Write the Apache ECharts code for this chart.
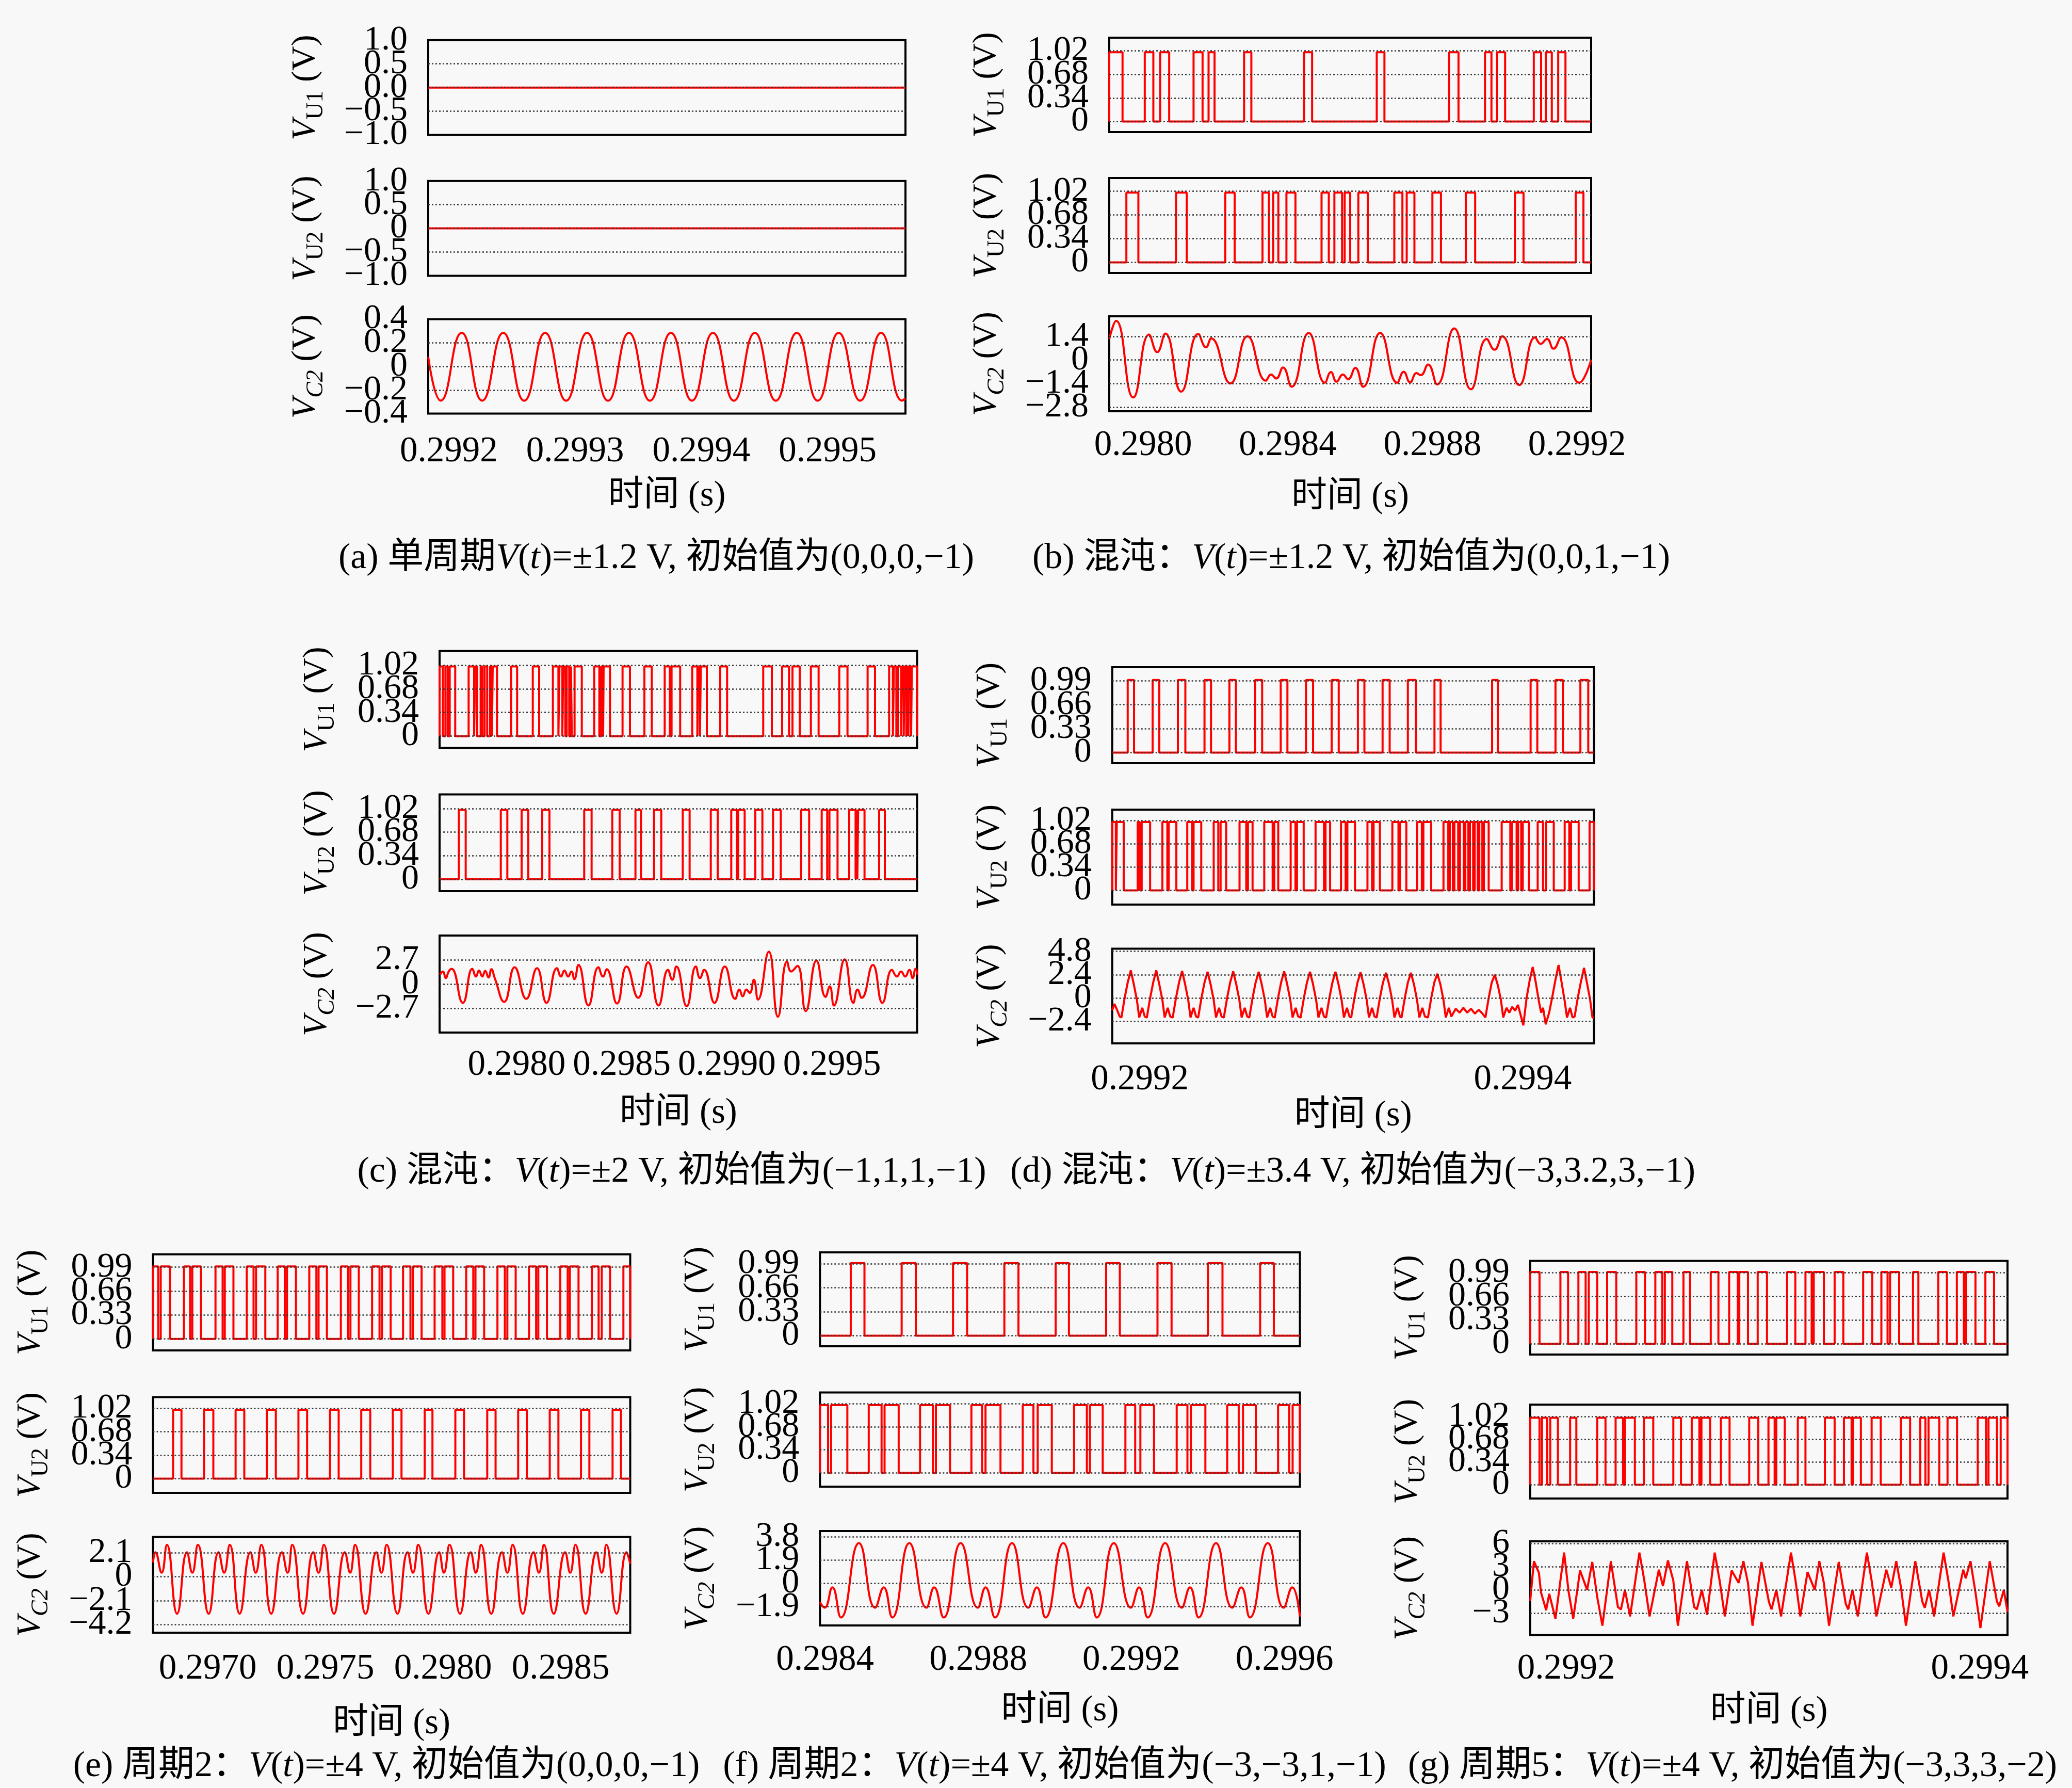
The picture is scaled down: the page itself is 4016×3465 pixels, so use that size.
<!DOCTYPE html>
<html><head><meta charset="utf-8">
<script src="https://cdn.jsdelivr.net/npm/echarts@6/dist/echarts.min.js"></script>
<style>html,body{margin:0;padding:0;background:#f8f8f8}#c{width:4016px;height:3465px}</style>
</head><body><div id="c"></div><script>
// ---------- tick labels ----------
const ticksA_U1 = [[1,'1.0'],[0.5,'0.5'],[0,'0.0'],[-0.5,'−0.5'],[-1,'−1.0']];
const ticksA_U2 = [[1,'1.0'],[0.5,'0.5'],[0,'0'],[-0.5,'−0.5'],[-1,'−1.0']];
const ticksA_C2 = [[0.4,'0.4'],[0.2,'0.2'],[0,'0'],[-0.2,'−0.2'],[-0.4,'−0.4']];
const ticksU34 = [[1.02,'1.02'],[0.68,'0.68'],[0.34,'0.34'],[0,'0']];
const ticksU33 = [[0.99,'0.99'],[0.66,'0.66'],[0.33,'0.33'],[0,'0']];
const ticksB_C2 = [[1.4,'1.4'],[0,'0'],[-1.4,'−1.4'],[-2.8,'−2.8']];
const ticksC_C2 = [[2.7,'2.7'],[0,'0'],[-2.7,'−2.7']];
const ticksD_C2 = [[4.8,'4.8'],[2.4,'2.4'],[0,'0'],[-2.4,'−2.4']];
const ticksE_C2 = [[2.1,'2.1'],[0,'0'],[-2.1,'−2.1'],[-4.2,'−4.2']];
const ticksF_C2 = [[3.8,'3.8'],[1.9,'1.9'],[0,'0'],[-1.9,'−1.9']];
const ticksG_C2 = [[6,'6'],[3,'3'],[0,'0'],[-3,'−3']];
const xTicksA = [0.2992,0.2993,0.2994,0.2995];
const xTicksB = [0.2980,0.2984,0.2988,0.2992];
const xTicksC = [0.2980,0.2985,0.2990,0.2995];
const xTicksD = [0.2992,0.2994];
const xTicksE = [0.2970,0.2975,0.2980,0.2985];
const xTicksF = [0.2984,0.2988,0.2992,0.2996];
const xTicksG = [0.2992,0.2994];
const captions = [
 '(a) 单周期{i|V}({i|t})=±1.2 V, 初始值为(0,0,0,−1)',
 '(b) 混沌：{i|V}({i|t})=±1.2 V, 初始值为(0,0,1,−1)',
 '(c) 混沌：{i|V}({i|t})=±2 V, 初始值为(−1,1,1,−1)',
 '(d) 混沌：{i|V}({i|t})=±3.4 V, 初始值为(−3,3.2,3,−1)',
 '(e) 周期2：{i|V}({i|t})=±4 V, 初始值为(0,0,0,−1)',
 '(f) 周期2：{i|V}({i|t})=±4 V, 初始值为(−3,−3,1,−1)',
 '(g) 周期5：{i|V}({i|t})=±4 V, 初始值为(−3,3,3,−2)'
];
const xTitle = '时间 (s)';

// ---------- data ----------
const HIGH = 1.0;
// (a)
const aU1 = [[0.2991837,0],[0.2995617,0]];
const aU2 = [[0.2991837,0],[0.2995617,0]];
const aC2 = [[0.2991837,0.08],[0.2991936,-0.29],[0.2992102,0.285],[0.2992264,-0.29],[0.2992431,0.285],[0.2992597,-0.29],[0.2992763,0.285],[0.2992929,-0.29],[0.2993095,0.285],[0.2993261,-0.29],[0.2993427,0.285],[0.2993593,-0.29],[0.2993759,0.285],[0.2993926,-0.29],[0.2994092,0.285],[0.2994258,-0.29],[0.2994424,0.285],[0.2994590,-0.29],[0.2994756,0.285],[0.2994922,-0.29],[0.2995088,0.285],[0.2995258,-0.29],[0.2995424,0.285],[0.2995590,-0.29],[0.2995617,-0.27]];
// (b) pulses [rise, fall]
const bU1 = [[0.2979065,0.2979432],[0.2980047,0.2980284],[0.2980473,0.2980722],[0.2981396,0.2981645],[0.2981811,0.2981976],[0.2982793,0.2982994],[0.2984450,0.2984674],[0.2986461,0.2986674],[0.2988461,0.2988722],[0.2989455,0.2989633],[0.2989787,0.2990011],[0.2990804,0.2991006],[0.2991136,0.2991302],[0.2991479,0.2991680]];
const bU2 = [[0.2979538,0.2979870],[0.2980911,0.2981207],[0.2982272,0.2982532],[0.2983302,0.2983479],[0.2983598,0.2983740],[0.2983964,0.2984213],[0.2984935,0.2985136],[0.2985290,0.2985503],[0.2985574,0.2985728],[0.2985952,0.2986213],[0.2986947,0.2987171],[0.2987290,0.2987503],[0.2988000,0.2988237],[0.2988923,0.2989183],[0.2990284,0.2990520],[0.2991964,0.2992177]];
const bC2 = [[0.2979065,1.25],[0.2979254,2.33],[0.2979728,-2.23],[0.2980166,1.51],[0.2980391,0.47],[0.2980615,1.57],[0.2981053,-1.88],[0.2981527,1.55],[0.2981740,0.76],[0.2981882,1.29],[0.2982414,-1.39],[0.2982888,1.41],[0.2983396,-1.23],[0.2983538,-0.86],[0.2983680,-1.10],[0.2983870,-0.45],[0.2984106,-1.59],[0.2984580,1.61],[0.2985029,-1.35],[0.2985195,-0.72],[0.2985349,-1.29],[0.2985526,-0.86],[0.2985669,-1.14],[0.2985870,-0.47],[0.2986083,-1.59],[0.2986556,1.61],[0.2987029,-1.35],[0.2987207,-0.70],[0.2987384,-1.33],[0.2987562,-0.78],[0.2987680,-0.90],[0.2987881,-0.27],[0.2988130,-1.45],[0.2988603,1.88],[0.2989065,-1.74],[0.2989503,1.25],[0.2989716,0.61],[0.2989929,1.41],[0.2990402,-1.49],[0.2990840,1.35],[0.2990994,0.96],[0.2991171,1.25],[0.2991349,0.67],[0.2991562,1.35],[0.2992059,-1.35],[0.2992390,0.0]];
// (c)
const cU1 = [[0.2976331,0.2976486],[0.2976609,0.2976715],[0.2976813,0.2977075],[0.2977713,0.2977975],[0.2978024,0.2978122],[0.2978286,0.2978368],[0.2978474,0.2978597],[0.2978736,0.2978818],[0.2978859,0.2979063],[0.2979734,0.2980020],[0.2980765,0.2981068],[0.2981722,0.2981984],[0.2982033,0.2982172],[0.2982213,0.2982311],[0.2982377,0.2982499],[0.2982581,0.2982622],[0.2982753,0.2983097],[0.2983686,0.2983931],[0.2984029,0.2984111],[0.2984135,0.2984438],[0.2985035,0.2985387],[0.2986074,0.2986426],[0.2987040,0.2987285],[0.2987367,0.2987776],[0.2988349,0.2988594],[0.2988635,0.2988717],[0.2988758,0.2989044],[0.2989682,0.2990009],[0.2991727,0.2992137],[0.2992627,0.2992955],[0.2993118,0.2993462],[0.2993994,0.2994362],[0.2995344,0.2995736],[0.2996693,0.2997045],[0.2997716,0.2997896],[0.2997945,0.2998060],[0.2998125,0.2998289],[0.2998330,0.2998412],[0.2998452,0.2998534],[0.2998575,0.2998632],[0.2998681,0.2998763],[0.2998796,0.2999046]];
const cU2 = [[0.2977247,0.2977574],[0.2979243,0.2979554],[0.2980233,0.2980552],[0.2981215,0.2981558],[0.2983211,0.2983563],[0.2984545,0.2984896],[0.2985649,0.2985911],[0.2986533,0.2986876],[0.2987899,0.2988226],[0.2989232,0.2989560],[0.2990206,0.2990476],[0.2990533,0.2990844],[0.2991351,0.2991687],[0.2992194,0.2992562],[0.2993527,0.2993912],[0.2994509,0.2994771],[0.2994877,0.2995262],[0.2995818,0.2996121],[0.2996162,0.2996203],[0.2996244,0.2996546],[0.2997241,0.2997512]];
const cC2 = [[0.2976351,1.03],[0.2976489,1.40],[0.2976627,0.66],[0.2976765,1.40],[0.2976903,1.69],[0.2977436,-2.09],[0.2977890,1.69],[0.2978067,0.84],[0.2978205,1.51],[0.2978363,0.84],[0.2978501,1.47],[0.2978659,0.73],[0.2978797,1.65],[0.2978955,0.66],[0.2979408,-1.98],[0.2979901,1.87],[0.2980454,-1.65],[0.2980966,1.76],[0.2981420,-2.09],[0.2981913,1.76],[0.2982110,0.84],[0.2982268,1.51],[0.2982446,0.84],[0.2982604,1.40],[0.2982742,0.55],[0.2982939,2.13],[0.2983412,-2.39],[0.2983886,1.87],[0.2984103,0.84],[0.2984280,1.65],[0.2984773,-2.17],[0.2985227,1.95],[0.2985779,-1.54],[0.2986253,2.42],[0.2986746,-2.39],[0.2987199,1.58],[0.2987397,0.48],[0.2987594,1.95],[0.2988087,-2.46],[0.2988521,1.95],[0.2988718,0.66],[0.2988915,1.58],[0.2989408,-2.09],[0.2989901,1.95],[0.2990395,-1.65],[0.2990592,-0.62],[0.2990750,-1.36],[0.2990927,-0.62],[0.2991085,-0.99],[0.2991282,0.48],[0.2991479,-1.73],[0.2991992,3.60],[0.2992426,-3.64],[0.2992860,2.50],[0.2993057,1.40],[0.2993353,2.02],[0.2993748,-3.01],[0.2994260,2.61],[0.2994694,-1.43],[0.2994892,-0.26],[0.2995089,-2.39],[0.2995602,2.75],[0.2996016,-2.09],[0.2996213,-0.62],[0.2996410,-1.54],[0.2996943,2.13],[0.2997396,-2.09],[0.2997850,1.58],[0.2998087,0.84],[0.2998284,1.40],[0.2998481,0.84],[0.2998678,1.58],[0.2998836,0.66],[0.2998974,1.69],[0.2999073,1.03]];
// (d)
const dU1 = [[0.2991937,0.2991970],[0.2992067,0.2992102],[0.2992199,0.2992238],[0.2992338,0.2992372],[0.2992468,0.2992502],[0.2992602,0.2992639],[0.2992736,0.2992771],[0.2992868,0.2992905],[0.2993002,0.2993039],[0.2993139,0.2993173],[0.2993268,0.2993305],[0.2993400,0.2993442],[0.2993539,0.2993571],[0.2993840,0.2993870],[0.2994041,0.2994076],[0.2994171,0.2994210],[0.2994301,0.2994342]];
const dU2 = [[0.2991856,0.2991875],[0.2991880,0.2991916],[0.2991989,0.2992000],[0.2992010,0.2992054],[0.2992118,0.2992144],[0.2992151,0.2992191],[0.2992248,0.2992273],[0.2992281,0.2992321],[0.2992386,0.2992410],[0.2992422,0.2992451],[0.2992521,0.2992556],[0.2992565,0.2992589],[0.2992650,0.2992694],[0.2992702,0.2992723],[0.2992788,0.2992813],[0.2992821,0.2992856],[0.2992918,0.2992962],[0.2992970,0.2992994],[0.2993051,0.2993075],[0.2993084,0.2993124],[0.2993189,0.2993213],[0.2993221,0.2993254],[0.2993319,0.2993351],[0.2993359,0.2993392],[0.2993449,0.2993473],[0.2993481,0.2993522],[0.2993586,0.2993611],[0.2993619,0.2993635],[0.2993643,0.2993663],[0.2993672,0.2993692],[0.2993700,0.2993716],[0.2993724,0.2993741],[0.2993749,0.2993765],[0.2993773,0.2993789],[0.2993797,0.2993822],[0.2993890,0.2993935],[0.2993943,0.2993968],[0.2993976,0.2993992],[0.2994000,0.2994033],[0.2994078,0.2994106],[0.2994122,0.2994162],[0.2994219,0.2994243],[0.2994252,0.2994292],[0.2994349,0.2994372]];
const dC2 = [[0.2991856,-1.25],[0.2991868,-0.6],[0.2991883,-1.3],[0.2991895,-1.9],
[0.2991904,-2.0],[0.2991921,0.0],[0.2991937,1.6],[0.2991953,2.85],[0.2991969,1.4],[0.2991985,-0.2],[0.2991997,-2.0],[0.2992013,-1.0],[0.2992026,-1.9],
[0.2992037,-2.0],[0.2992054,0.0],[0.2992070,1.6],[0.2992086,2.85],[0.2992102,1.4],[0.2992118,-0.2],[0.2992130,-2.0],[0.2992146,-1.0],[0.2992159,-1.9],
[0.2992172,-2.0],[0.2992189,0.0],[0.2992205,1.6],[0.2992221,2.8],[0.2992237,1.4],[0.2992253,-0.2],[0.2992265,-2.0],[0.2992281,-1.0],[0.2992294,-1.9],
[0.2992305,-2.0],[0.2992322,0.0],[0.2992338,1.6],[0.2992354,2.7],[0.2992370,1.4],[0.2992386,-0.2],[0.2992398,-2.0],[0.2992414,-1.0],[0.2992427,-1.9],
[0.2992439,-2.0],[0.2992456,0.0],[0.2992472,1.6],[0.2992488,2.75],[0.2992504,1.4],[0.2992520,-0.2],[0.2992532,-2.0],[0.2992548,-1.0],[0.2992561,-1.9],
[0.2992572,-2.0],[0.2992589,0.0],[0.2992605,1.6],[0.2992621,2.7],[0.2992637,1.4],[0.2992653,-0.2],[0.2992665,-2.0],[0.2992681,-1.0],[0.2992694,-1.9],
[0.2992705,-2.0],[0.2992722,0.0],[0.2992738,1.6],[0.2992754,2.75],[0.2992770,1.4],[0.2992786,-0.2],[0.2992798,-2.0],[0.2992814,-1.0],[0.2992827,-1.9],
[0.2992840,-2.0],[0.2992857,0.0],[0.2992873,1.6],[0.2992889,2.7],[0.2992905,1.4],[0.2992921,-0.2],[0.2992933,-2.0],[0.2992949,-1.0],[0.2992962,-1.9],
[0.2992973,-2.0],[0.2992990,0.0],[0.2993006,1.6],[0.2993022,2.7],[0.2993038,1.4],[0.2993054,-0.2],[0.2993066,-2.0],[0.2993082,-1.0],[0.2993095,-1.9],
[0.2993104,-2.0],[0.2993121,0.0],[0.2993137,1.6],[0.2993153,2.65],[0.2993169,1.4],[0.2993185,-0.2],[0.2993197,-2.0],[0.2993213,-1.0],[0.2993226,-1.9],
[0.2993237,-2.0],[0.2993254,0.0],[0.2993270,1.6],[0.2993286,2.6],[0.2993302,1.4],[0.2993318,-0.2],[0.2993330,-2.0],[0.2993346,-1.0],[0.2993359,-1.9],
[0.2993367,-2.0],[0.2993384,0.0],[0.2993400,1.6],[0.2993416,2.6],[0.2993432,1.4],[0.2993448,-0.2],[0.2993460,-2.0],[0.2993476,-1.0],[0.2993489,-1.9],
[0.2993505,-2.0],[0.2993522,0.0],[0.2993538,1.6],[0.2993554,2.5],[0.2993570,1.4],[0.2993586,-0.2],[0.2993598,-2.0],[0.2993614,-1.0],[0.2993627,-1.9],
[0.2993650,-1.1],[0.2993670,-1.5],[0.2993690,-1.0],[0.2993710,-1.5],[0.2993730,-1.1],[0.2993750,-1.6],[0.2993770,-1.2],[0.2993790,-1.6],
[0.2993805,-2.0],[0.2993822,0.0],[0.2993838,1.6],[0.2993854,2.4],[0.2993870,1.3],[0.2993886,-0.2],[0.2993898,-2.0],[0.2993915,-1.0],[0.2993930,-1.5],[0.2993945,-0.9],[0.2993960,-1.3],[0.2993975,-0.7],
[0.2994003,-2.8],[0.2994020,0.0],[0.2994036,1.8],[0.2994052,3.2],[0.2994068,1.6],[0.2994084,-0.3],[0.2994096,-1.5],[0.2994106,-1.0],[0.2994120,-2.7],
[0.2994138,-1.5],[0.2994155,0.2],[0.2994171,1.9],[0.2994187,3.4],[0.2994203,1.6],[0.2994219,-0.3],[0.2994231,-2.0],[0.2994247,-1.0],[0.2994260,-2.0],
[0.2994271,-1.9],[0.2994288,0.1],[0.2994304,1.7],[0.2994320,3.1],[0.2994336,1.5],[0.2994352,-0.2],[0.2994364,-2.0],[0.2994372,-2.0]];
// (e)
const eU1 = [[0.2967671,0.2967895],[0.2968000,0.2968395],[0.2968987,0.2969250],[0.2969342,0.2969711],[0.2970329,0.2970632],[0.2970724,0.2971092],[0.2971658,0.2971947],[0.2972053,0.2972447],[0.2972974,0.2973276],[0.2973368,0.2973750],[0.2974316,0.2974618],[0.2974711,0.2975066],[0.2975658,0.2975961],[0.2976066,0.2976421],[0.2976987,0.2977303],[0.2977408,0.2977776],[0.2978303,0.2978618],[0.2978724,0.2979092],[0.2979645,0.2979974],[0.2980066,0.2980434],[0.2980987,0.2981289],[0.2981382,0.2981750],[0.2982316,0.2982632],[0.2982737,0.2983092],[0.2983658,0.2983961],[0.2984053,0.2984421],[0.2984987,0.2985303],[0.2985395,0.2985763],[0.2986329,0.2986618],[0.2986750,0.2987105],[0.2987671,0.2987961]];
const eU2 = [[0.2968526,0.2968882],[0.2969842,0.2970237],[0.2971184,0.2971553],[0.2972513,0.2972895],[0.2973855,0.2974224],[0.2975197,0.2975566],[0.2976526,0.2976908],[0.2977868,0.2978237],[0.2979224,0.2979553],[0.2980526,0.2980895],[0.2981882,0.2982237],[0.2983197,0.2983566],[0.2984540,0.2984908],[0.2985868,0.2986224],[0.2987211,0.2987566]];
const eC2 = [[0.2967671,1.25],[0.2967776,2.15],[0.2968039,0.35],[0.2968263,2.8],[0.2968697,-3.25],
[0.2969118,2.15],[0.2969342,0.35],[0.2969579,2.8],[0.2970039,-3.25],
[0.2970461,2.15],[0.2970697,0.35],[0.2970934,2.8],[0.2971355,-3.25],
[0.2971816,2.15],[0.2972039,0.35],[0.2972276,2.8],[0.2972697,-3.25],
[0.2973158,2.15],[0.2973395,0.35],[0.2973592,2.8],[0.2974053,-3.25],
[0.2974487,2.15],[0.2974711,0.35],[0.2974934,2.8],[0.2975368,-3.25],
[0.2975829,2.15],[0.2976053,0.35],[0.2976263,2.8],[0.2976711,-3.25],
[0.2977171,2.15],[0.2977382,0.35],[0.2977605,2.8],[0.2978066,-3.25],
[0.2978500,2.15],[0.2978724,0.35],[0.2978947,2.8],[0.2979382,-3.25],
[0.2979842,2.15],[0.2980039,0.35],[0.2980276,2.8],[0.2980724,-3.25],
[0.2981184,2.15],[0.2981395,0.35],[0.2981618,2.8],[0.2982053,-3.25],
[0.2982513,2.15],[0.2982737,0.35],[0.2982961,2.8],[0.2983395,-3.25],
[0.2983855,2.15],[0.2984079,0.35],[0.2984290,2.8],[0.2984711,-3.25],
[0.2985197,2.15],[0.2985408,0.35],[0.2985632,2.8],[0.2986066,-3.25],
[0.2986527,2.15],[0.2986750,0.35],[0.2986947,2.8],[0.2987382,-3.25],
[0.2987803,2.15],[0.2987961,1.14]];
// (f)
const fU1 = [[0.2984670,0.2985028],[0.2986000,0.2986369],[0.2987341,0.2987709],[0.2988682,0.2989050],[0.2990022,0.2990369],[0.2991341,0.2991698],[0.2992682,0.2993050],[0.2994000,0.2994380],[0.2995363,0.2995721]];
const fU2 = [[0.2983866,0.2984078],[0.2984156,0.2984581],[0.2985140,0.2985475],[0.2985553,0.2985922],[0.2986480,0.2986816],[0.2986894,0.2987263],[0.2987821,0.2988101],[0.2988190,0.2988581],[0.2989162,0.2989441],[0.2989553,0.2989922],[0.2990503,0.2990838],[0.2990916,0.2991251],[0.2991844,0.2992100],[0.2992235,0.2992592],[0.2993184,0.2993464],[0.2993553,0.2993933],[0.2994503,0.2994804],[0.2994916,0.2995251],[0.2995832,0.2996123],[0.2996212,0.2996402]];
const fC2 = [[0.2983866,-1.53],[0.2983989,-1.98],[0.2984190,-0.32],[0.2984413,-2.78],[0.2984883,3.29],
[0.2985307,-1.98],[0.2985531,-0.32],[0.2985754,-2.78],[0.2986201,3.29],
[0.2986648,-1.98],[0.2986849,-0.32],[0.2987095,-2.78],[0.2987542,3.29],
[0.2987989,-1.98],[0.2988190,-0.32],[0.2988436,-2.78],[0.2988883,3.29],
[0.2989307,-1.98],[0.2989531,-0.32],[0.2989754,-2.78],[0.2990223,3.29],
[0.2990648,-1.98],[0.2990871,-0.32],[0.2991095,-2.78],[0.2991542,3.29],
[0.2991989,-1.98],[0.2992201,-0.32],[0.2992425,-2.78],[0.2992883,3.29],
[0.2993318,-1.98],[0.2993531,-0.32],[0.2993754,-2.78],[0.2994212,3.29],
[0.2994637,-1.98],[0.2994871,-0.32],[0.2995095,-2.78],[0.2995564,3.29],
[0.2995977,-1.98],[0.2996201,-0.32],[0.2996402,-2.7]];
// (g)
const gU1 = [[0.2991826,0.2991871],[0.2991972,0.2992009],[0.2992059,0.2992094],[0.2992109,0.2992150],[0.2992198,0.2992242],[0.2992339,0.2992381],[0.2992431,0.2992465],[0.2992477,0.2992513],[0.2992567,0.2992599],[0.2992699,0.2992736],[0.2992788,0.2992830],[0.2992837,0.2992879],[0.2992926,0.2992971],[0.2993068,0.2993108],[0.2993157,0.2993187],[0.2993197,0.2993246],[0.2993298,0.2993340],[0.2993436,0.2993480],[0.2993524,0.2993554],[0.2993566,0.2993610],[0.2993677,0.2993703],[0.2993799,0.2993841],[0.2993889,0.2993923],[0.2993933,0.2993979],[0.2994027,0.2994069]];
const gU2 = [[0.2991826,0.2991871],[0.2991883,0.2991908],[0.2991923,0.2991960],[0.2992019,0.2992049],[0.2992150,0.2992190],[0.2992239,0.2992275],[0.2992284,0.2992332],[0.2992376,0.2992421],[0.2992518,0.2992555],[0.2992607,0.2992644],[0.2992654,0.2992696],[0.2992748,0.2992790],[0.2992885,0.2992929],[0.2992978,0.2993008],[0.2993016,0.2993057],[0.2993120,0.2993157],[0.2993251,0.2993298],[0.2993343,0.2993380],[0.2993387,0.2993425],[0.2993477,0.2993521],[0.2993618,0.2993663],[0.2993712,0.2993737],[0.2993752,0.2993804],[0.2993844,0.2993890],[0.2993990,0.2994030],[0.2994042,0.2994083],[0.2994101,0.2994134]];
const gC2 = [[0.2991826,-1.4],[0.2991844,3.7],[0.2991868,2.2],[0.2991878,-0.3],[0.2991903,-2.6],[0.2991918,-0.5],[0.2991948,-3.7],[0.2991972,1.2],[0.2991990,4.8],[0.2992012,-0.3],[0.2992034,-3.7],[0.2992067,2.5],[0.2992101,0.0],[0.2992126,3.6],[0.2992150,-0.9],[0.2992175,-4.6],[0.2992216,3.7],[0.2992250,-2.2],[0.2992265,-2.5],[0.2992284,0.0],[0.2992309,-3.4],[0.2992354,4.8],[0.2992376,1.5],[0.2992403,-3.4],[0.2992448,2.6],[0.2992468,0.5],[0.2992492,3.8],[0.2992518,1.2],[0.2992540,-4.6],[0.2992584,3.7],[0.2992619,-2.2],[0.2992632,-2.5],[0.2992656,0.0],[0.2992681,-3.2],[0.2992718,4.8],[0.2992742,1.2],[0.2992767,-3.4],[0.2992800,2.5],[0.2992834,0.9],[0.2992857,3.7],[0.2992879,0.9],[0.2992901,-4.6],[0.2992944,3.6],[0.2992980,-1.5],[0.2992993,-2.5],[0.2993016,0.0],[0.2993039,-3.4],[0.2993087,4.8],[0.2993109,1.2],[0.2993132,-3.4],[0.2993167,2.3],[0.2993202,0.0],[0.2993224,3.7],[0.2993246,0.9],[0.2993271,-4.6],[0.2993318,3.6],[0.2993352,-1.8],[0.2993364,-2.5],[0.2993384,0.0],[0.2993410,-3.4],[0.2993454,4.8],[0.2993477,1.2],[0.2993500,-3.4],[0.2993548,2.6],[0.2993572,0.3],[0.2993596,3.7],[0.2993619,0.3],[0.2993643,-4.6],[0.2993688,3.7],[0.2993722,-1.5],[0.2993734,-2.3],[0.2993755,0.0],[0.2993779,-3.4],[0.2993825,4.8],[0.2993848,1.2],[0.2993872,-3.4],[0.2993920,2.6],[0.2993932,1.5],[0.2993955,3.7],[0.2993979,-0.3],[0.2994003,-4.9],[0.2994048,3.7],[0.2994083,-1.5],[0.2994094,-2.1],[0.2994116,0.0],[0.2994134,-2.8]];

// ---------- layout / styling ----------
const FONT = "'Liberation Serif','Noto Sans CJK SC',serif";
const RED = '#ff0000';
const panels = [
 {L:830, R:1755, rows:[[77.8,261.5],[350.8,534.4],[618.6,801.6]], xMin:0.2991837, xMax:0.2995617, xTicks:xTicksA, gOff:0.2992346, gStep:0.00005, nameGapX:126, margin:40,
  y:[{min:-1,max:1,ticks:ticksA_U1,n:'U1'},{min:-1,max:1,ticks:ticksA_U2,n:'U2'},{min:-0.4,max:0.4,ticks:ticksA_C2,n:'C2'}],
  data:[{d:aU1},{d:aU2},{d:aC2,smooth:true}], cap:[1272,1083]},
 {L:2150, R:3084, rows:[[73,256],[345,529],[613,797]], xMin:0.2979065, xMax:0.2992390, xTicks:xTicksB, gOff:0, gStep:0.0002, nameGapX:132, margin:32,
  y:[{min:-0.152,max:1.21,ticks:ticksU34,n:'U1'},{min:-0.152,max:1.21,ticks:ticksU34,n:'U2'},{min:-3.05,max:2.6,ticks:ticksB_C2,n:'C2'}],
  data:[{p:bU1},{p:bU2},{d:bC2,smooth:true}], cap:[2619,1083]},
 {L:852, R:1777.5, rows:[[1261.4,1449.6],[1539.5,1727],[1813,2001]], xMin:0.2976331, xMax:0.2999046, xTicks:xTicksC, gOff:0, gStep:0.00025, nameGapX:122, margin:29,
  y:[{min:-0.17,max:1.223,ticks:ticksU34,n:'U1'},{min:-0.17,max:1.223,ticks:ticksU34,n:'U2'},{min:-5.4,max:5.4,ticks:ticksC_C2,n:'C2'}],
  data:[{p:cU1},{p:cU2},{d:cC2,smooth:true}], cap:[1302,2272]},
 {L:2155.7, R:3089.5, rows:[[1293,1479],[1569,1753],[1838.6,2022]], xMin:0.2991856, xMax:0.2994372, xTicks:xTicksD, gOff:0, gStep:0.0001, nameGapX:102, margin:36,
  y:[{min:-0.145,max:1.176,ticks:ticksU33,n:'U1'},{min:-0.207,max:1.18,ticks:ticksU34,n:'U2'},{min:-4.66,max:5.07,ticks:ticksD_C2,n:'C2'}],
  data:[{p:dU1},{p:dU2},{d:dC2}], cap:[2622,2272]},
 {L:296.5, R:1221.5, rows:[[2430.8,2617],[2707.6,2893],[2978.6,3164]], xMin:0.2967671, xMax:0.2987961, xTicks:xTicksE, gOff:0, gStep:0.00025, nameGapX:142, margin:36,
  y:[{min:-0.159,max:1.167,ticks:ticksU33,n:'U1'},{min:-0.205,max:1.182,ticks:ticksU34,n:'U2'},{min:-4.92,max:3.49,ticks:ticksE_C2,n:'C2'}],
  data:[{p:eU1},{p:eU2},{d:eC2,smooth:true}], cap:[749,3424]},
 {L:1589.3, R:2519.5, rows:[[2427,2609],[2698.6,2881],[2967,3150]], xMin:0.2983866, xMax:0.2996402, xTicks:xTicksF, gOff:0, gStep:0.0001, nameGapX:131, margin:33,
  y:[{min:-0.145,max:1.148,ticks:ticksU33,n:'U1'},{min:-0.204,max:1.185,ticks:ticksU34,n:'U2'},{min:-3.43,max:4.28,ticks:ticksF_C2,n:'C2'}],
  data:[{p:fU1},{p:fU2},{d:fC2,smooth:true}], cap:[2044,3424]},
 {L:2965.9, R:3891, rows:[[2443.5,2625],[2722,2904],[2987,3168.6]], xMin:0.2991826, xMax:0.2994134, xTicks:xTicksG, gOff:0, gStep:0.0001, nameGapX:114, margin:32,
  y:[{min:-0.151,max:1.155,ticks:ticksU33,n:'U1'},{min:-0.207,max:1.197,ticks:ticksU34,n:'U2'},{min:-5.8,max:6.25,ticks:ticksG_C2,n:'C2'}],
  data:[{p:gU1},{p:gU2},{d:gC2}], cap:[3358,3424]}
];

function squareWave(pulses, x0, x1, hi) {
  const pts = [[x0, 0]];
  pulses.forEach(([r, f]) => { pts.push([r, 0], [r, hi], [f, hi], [f, 0]); });
  pts.push([x1, 0]);
  return pts;
}
const nameRich = {
  v: {fontStyle:'italic', fontSize:66, fontFamily:FONT, color:'#000', lineHeight:86, verticalAlign:'middle'},
  s: {fontSize:46, fontFamily:FONT, color:'#000', lineHeight:46, verticalAlign:'bottom'},
  si: {fontSize:46, fontStyle:'italic', fontFamily:FONT, color:'#000', lineHeight:46, verticalAlign:'bottom'},
  n: {fontSize:66, fontFamily:FONT, color:'#000', lineHeight:86, verticalAlign:'middle'}
};

const grids = [], xAxes = [], yAxes = [], series = [];
panels.forEach(p => {
  for (let r = 0; r < 3; r++) {
    const gi = grids.length;
    const [top, bottom] = p.rows[r];
    const yc = p.y[r];
    const isBottom = r === 2;
    grids.push({left:p.L, top:top, width:p.R - p.L, height:bottom - top, show:true, borderColor:'#000', borderWidth:4,
      backgroundColor:'transparent', containLabel:false, outerBoundsMode:'none'});
    xAxes.push({type:'value', gridIndex:gi, min:p.xMin, max:p.xMax,
      axisLine:{show:false}, axisTick:{show:false}, splitLine:{show:false},
      axisLabel:{show:isBottom, customValues:p.xTicks, formatter:v => v.toFixed(4), margin:p.margin,
        hideOverlap:false, showMinLabel:true, showMaxLabel:true,
        fontSize:69, fontFamily:FONT, color:'#000'},
      name: isBottom ? xTitle : '', nameLocation:'middle', nameGap:p.nameGapX,
      nameTextStyle:{fontSize:69, fontFamily:FONT, color:'#000'}});
    const sub = yc.n === 'C2' ? '{si|C2}' : '{s|' + yc.n + '}';
    const mainY = yAxes.length;
    // main y axis: scale, name, no labels
    yAxes.push({type:'value', gridIndex:gi, position:'left', min:yc.min, max:yc.max,
      axisLine:{show:false}, axisTick:{show:false}, splitLine:{show:false}, axisLabel:{show:false},
      name:'{v|V}' + sub + '{n| (V)}', nameLocation:'middle', nameRotate:90, nameGap:194,
      nameTextStyle:{fontSize:66, fontFamily:FONT, color:'#000', rich:nameRich}});
    // one label axis per tick so that crowded labels are all drawn (as in the original)
    yc.ticks.forEach(([val, txt]) => {
      yAxes.push({type:'value', gridIndex:gi, position:'left', offset:0, min:yc.min, max:yc.max,
        axisLine:{show:false}, axisTick:{show:false}, splitLine:{show:false},
        axisLabel:{customValues:[val], formatter:() => txt, margin:40, showMinLabel:true, showMaxLabel:true,
          fontSize:68, fontFamily:FONT, color:'#000'}});
    });
    // grid lines (dotted)
    const gx = [];
    for (let k = Math.ceil((p.xMin - p.gOff) / p.gStep - 1e-6); ; k++) {
      const v = p.gOff + k * p.gStep;
      if (v >= p.xMax - 1e-9) break;
      if (v > p.xMin + 1e-9) gx.push(v);
    }
    const gy = yc.ticks.map(t => t[0]).filter(v => v > yc.min + 1e-9 && v < yc.max - 1e-9);
    series.push({type:'line', xAxisIndex:gi, yAxisIndex:mainY, data:[[p.xMin, yc.min]], showSymbol:false,
      lineStyle:{opacity:0}, silent:true, z:1, animation:false,
      markLine:{silent:true, symbol:['none','none'], label:{show:false}, animation:false,
        lineStyle:{type:[3,4], color:'#333', width:2.5},
        emphasis:{disabled:true},
        data: gx.map(v => ({xAxis:v})).concat(gy.map(v => ({yAxis:v})))}});
    const dd = p.data[r];
    const pts = dd.p ? squareWave(dd.p, p.xMin, p.xMax, HIGH) : dd.d;
    series.push({type:'line', xAxisIndex:gi, yAxisIndex:mainY, data:pts, showSymbol:false, smooth:!!dd.smooth,
      lineStyle:{color:RED, width:4}, itemStyle:{color:RED}, z:3, animation:false, clip:true, silent:true});
  }
});

const graphic = panels.map((p, i) => ({type:'text', x:p.cap[0], y:p.cap[1], silent:true,
  style:{text:captions[i], fontSize:70, fontFamily:FONT, fill:'#000', align:'center', verticalAlign:'middle',
    rich:{i:{fontStyle:'italic', fontSize:70, fontFamily:FONT, fill:'#000', color:'#000'}}}}));

const chart = echarts.init(document.getElementById('c'), null, {renderer:'canvas', width:4016, height:3465});
chart.setOption({
  backgroundColor:'#f8f8f8', animation:false,
  grid:grids, xAxis:xAxes, yAxis:yAxes, series:series, graphic:graphic
});
</script></body></html>
